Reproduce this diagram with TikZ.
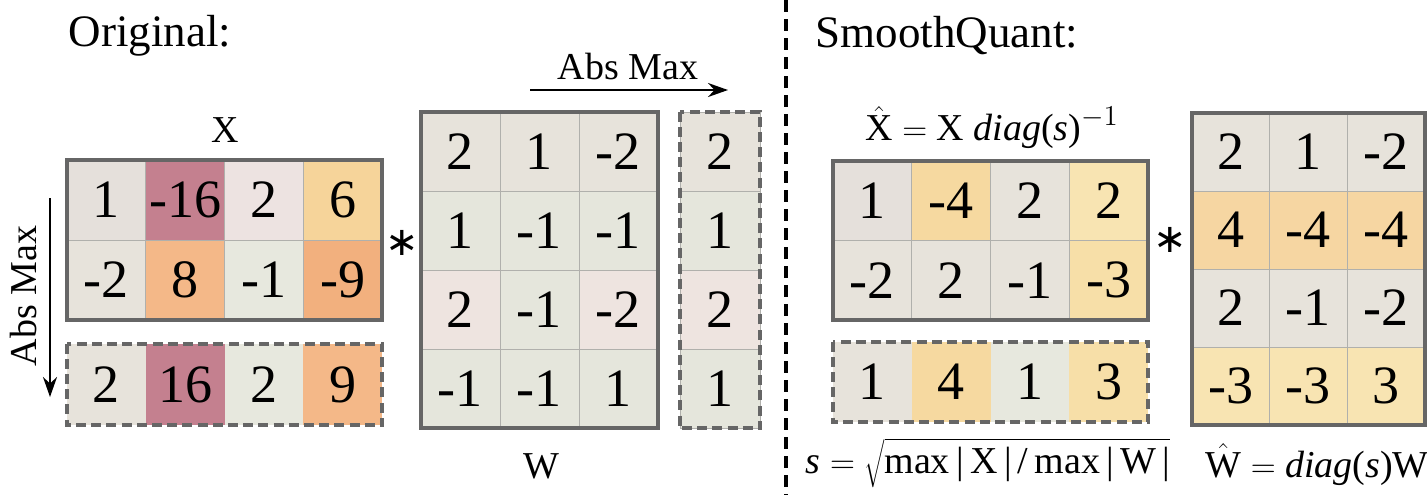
\documentclass[tikz,border=0pt]{standalone}
\usepackage{fontspec}
\setmainfont{Liberation Serif}
\newfontfamily\cellfnt[FakeStretch=1.001]{Liberation Serif}
\newfontfamily\titlefnt[Renderer=OpenType]{Liberation Serif}
\newfontfamily\starfnt{DejaVu Sans}
\usetikzlibrary{arrows.meta}
\definecolor{gridc}{HTML}{B0B0AC}
\definecolor{edgec}{HTML}{666666}
\definecolor{gA}{HTML}{E5E0DB}
\definecolor{gB}{HTML}{EDE3E1}
\definecolor{gC}{HTML}{E7E3DB}
\definecolor{gD}{HTML}{E7E8DE}
\definecolor{gE}{HTML}{E5E6DC}
\definecolor{gF}{HTML}{EEE4E0}
\definecolor{mauve}{HTML}{C4808F}
\definecolor{orA}{HTML}{F4B888}
\definecolor{orB}{HTML}{F2B07E}
\definecolor{yeA}{HTML}{F6D49A}
\definecolor{yeB}{HTML}{F6D9A0}
\definecolor{yeC}{HTML}{F8E4B2}
\definecolor{yeD}{HTML}{F7DFA8}
\definecolor{yeE}{HTML}{F6D6A2}
\newcommand{\matcells}[7]{%
  \foreach \ro/\co/\v/\col in {#7}{%
    \node[cell,#6,fill=\col,minimum width=#4*0.5pt,minimum height=#5*0.5pt]
      (#1-\ro-\co) at ({#2+(\co-0.5)*#4},{#3+(\ro-0.5)*#5}) {\v};}}
\begin{document}
\begin{tikzpicture}[x=0.5pt,y=-0.5pt,
  cell/.style={draw=gridc,line width=0.4pt,inner sep=0pt,
    font=\cellfnt\fontsize{27}{30}\selectfont},
  nogrid/.style={draw=none},
  outerbox/.style={draw=edgec,line width=2pt},
  dashbox/.style={draw=edgec,line width=2pt,dash pattern=on 5pt off 2.6pt},
  title/.style={font=\titlefnt\fontsize{22.5}{26}\selectfont,inner sep=0pt},
  lbl/.style={font=\fontsize{19}{22}\selectfont,inner sep=0pt},
  starnode/.style={font=\starfnt\fontsize{20}{24}\selectfont,inner sep=0pt},
  arr/.style={line width=1pt,-{Stealth[length=10pt,width=7pt]}},
  sep/.style={line width=2pt,dash pattern=on 6pt off 3.5pt}]
\useasboundingbox (0,0) rectangle (1427,495);

% titles
\node[title] (t1) at (150,36) {Original:};
\node[title] (t2) at (947,36) {SmoothQuant:};

% separator
\coordinate (s1) at (786,0);
\coordinate (s2) at (786,495);
\draw[sep] (s1) -- (s2);

% ---- Original X ----
\node[lbl] (xl) at (225,130) {X};
\matcells{X}{67}{160}{78.75}{80}{}{1/1/1/gA,1/2/-16/mauve,1/3/2/gB,1/4/6/yeA,
  2/1/-2/gC,2/2/8/orA,2/3/-1/gD,2/4/-9/orB}
\draw[outerbox] (X-1-1.north west) rectangle (X-2-4.south east);

\matcells{XA}{67}{344}{78.75}{81}{nogrid}{1/1/2/gC,1/2/16/mauve,1/3/2/gD,1/4/9/orA}
\draw[dashbox] (XA-1-1.north west) rectangle (XA-1-4.south east);

\coordinate (va1) at (50,198);
\coordinate (va2) at (50,397);
\draw[arr] (va1) -- (va2);
\node[lbl,rotate=90] (val) at (24,296) {Abs Max};

\node[starnode] (st1) at (402,243) {∗};

% ---- Original W ----
\matcells{W}{421}{112}{79}{79}{}{1/1/2/gC,1/2/1/gC,1/3/-2/gC,
  2/1/1/gE,2/2/-1/gE,2/3/-1/gE,
  3/1/2/gF,3/2/-1/gE,3/3/-2/gF,
  4/1/-1/gE,4/2/-1/gE,4/3/1/gE}
\draw[outerbox] (W-1-1.north west) rectangle (W-4-3.south east);
\node[lbl] (wl) at (541,466) {W};

\matcells{WA}{680}{112}{80}{79}{}{1/1/2/gC,2/1/1/gE,3/1/2/gF,4/1/1/gE}
\draw[dashbox] (WA-1-1.north west) rectangle (WA-4-1.south east);

\coordinate (ha1) at (530,90);
\coordinate (ha2) at (728,90);
\draw[arr] (ha1) -- (ha2);
\node[lbl] (hal) at (628,66) {Abs Max};

% ---- SmoothQuant X hat ----
\node[lbl] (xhl) at (992,128) {$\hat{\mbox{X}} = \mbox{X \textit{diag}(\textit{s})}^{-1}$};
\matcells{XH}{833}{161}{78.75}{79.5}{}{1/1/1/gA,1/2/-4/yeB,1/3/2/gC,1/4/2/yeC,
  2/1/-2/gC,2/2/2/gC,2/3/-1/gC,2/4/-3/yeD}
\draw[outerbox] (XH-1-1.north west) rectangle (XH-2-4.south east);

\matcells{XHA}{833}{342}{78.75}{80}{nogrid}{1/1/1/gC,1/2/4/yeB,1/3/1/gD,1/4/3/yeD}
\draw[dashbox] (XHA-1-1.north west) rectangle (XHA-1-4.south east);

\node[starnode] (st2) at (1170,240) {∗};

\node[lbl] (sf) at (988,463) {$\mbox{\textit{s}} = \sqrt{\mbox{max\,|\,X\,|\,/\,max\,|\,W\,|}}$};

% ---- SmoothQuant W hat ----
\matcells{WH}{1192}{113}{77.5}{78}{}{1/1/2/gC,1/2/1/gC,1/3/-2/gC,
  2/1/4/yeE,2/2/-4/yeE,2/3/-4/yeE,
  3/1/2/gC,3/2/-1/gC,3/3/-2/gC,
  4/1/-3/yeC,4/2/-3/yeC,4/3/3/yeC}
\draw[outerbox] (WH-1-1.north west) rectangle (WH-4-3.south east);
\node[lbl] (whl) at (1317,465) {$\hat{\mbox{W}} = \mbox{\textit{diag}(\textit{s})W}$};
\end{tikzpicture}
\end{document}
